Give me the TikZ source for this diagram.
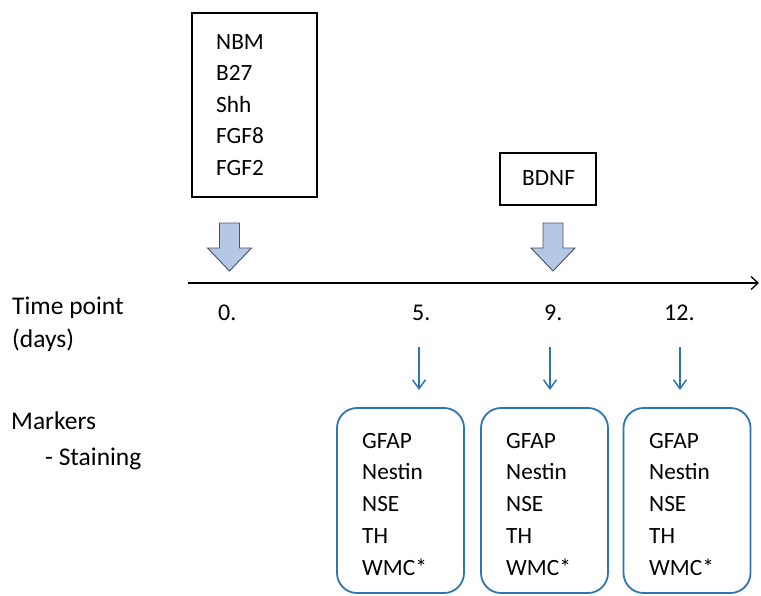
\documentclass[tikz,border=0pt]{standalone}
\usepackage{fontspec}
\setmainfont{Carlito}
\usetikzlibrary{arrows.meta}
\definecolor{blockfill}{RGB}{180,199,231}
\definecolor{blockline}{RGB}{70,82,105}
\definecolor{mblue}{RGB}{46,117,182}
\begin{document}
\begin{tikzpicture}[x=1pt,y=-1pt,
  lbl/.style={anchor=base west,inner sep=0pt,font=\fontsize{23.3}{28}\selectfont},
  sidelbl/.style={lbl,font=\fontsize{25.5}{30}\selectfont},
  daylbl/.style={lbl,font=\fontsize{24}{28}\selectfont},
  blackbox/.style={draw=black,line width=1.5pt,inner sep=0pt},
  markbox/.style={draw=mblue,line width=1.8pt,rounded corners=20pt,inner sep=0pt,minimum width=127pt,minimum height=185pt},
  blockarrow/.style={fill=blockfill,draw=blockline,line width=0.9pt,line join=miter},
  smallarrow/.style={draw=mblue,line width=1.5pt,-{Straight Barb[length=9pt,width=13pt,line width=1.5pt]}},
  timeline/.style={draw=black,line width=1.5pt,-{Straight Barb[length=7pt,width=13pt,line width=1.3pt]}}]
\useasboundingbox (0,0) rectangle (761,595);

% top supplement box
\node[blackbox,minimum width=125pt,minimum height=184pt] (supp) at (254.5,105) {};
\foreach \t [count=\i] in {NBM,B27,Shh,FGF8,FGF2}
  \node[lbl] (s\i) at (216,{49+31.5*(\i-1)}) {\t};

% BDNF box
\node[blackbox,minimum width=96pt,minimum height=52pt] (bdnfbox) at (548,179) {};
\node[lbl] (bdnf) at (522,185) {BDNF};

% block arrows
\foreach \cx/\nm in {229.5/ba0,553/ba9}{
  \coordinate (\nm) at (\cx,271);
  \path[blockarrow] (\cx-10,223) -- (\cx+10,223) -- (\cx+10,248) -- (\cx+22,248)
     -- (\nm) -- (\cx-22,248) -- (\cx-10,248) -- cycle;
}

% timeline
\coordinate (tlstart) at (188,283);
\coordinate (tlend) at (759,283);
\draw[timeline] (tlstart) -- (tlend);

% left labels
\node[sidelbl] (tp) at (12,314) {Time point};
\node[sidelbl] (days) at (12,347) {(days)};
\node[sidelbl] (mk) at (11,429) {Markers};
\node[sidelbl] (st) at (45,465) {- Staining};

% day labels
\node[daylbl] (d0) at (218,320) {0.};
\node[daylbl] (d5) at (412,320) {5.};
\node[daylbl] (d9) at (544,320) {9.};
\node[daylbl] (d12) at (664,320) {12.};

% marker boxes
\foreach \bx/\tx/\ax/\n in {400.5/362/419/a,544.5/506/550/b,687/649/680/c}{
  \node[markbox] (box\n) at (\bx,500.5) {};
  \coordinate (arr\n top) at (\ax,347);
  \coordinate (arr\n tip) at (\ax,390);
  \draw[smallarrow] (arr\n top) -- (arr\n tip);
  \foreach \t [count=\i] in {GFAP,Nestin,NSE,TH,WMC*}
    \node[lbl] (m\n\i) at (\tx,{448+31.75*(\i-1)}) {\t};
}
\end{tikzpicture}
\end{document}
